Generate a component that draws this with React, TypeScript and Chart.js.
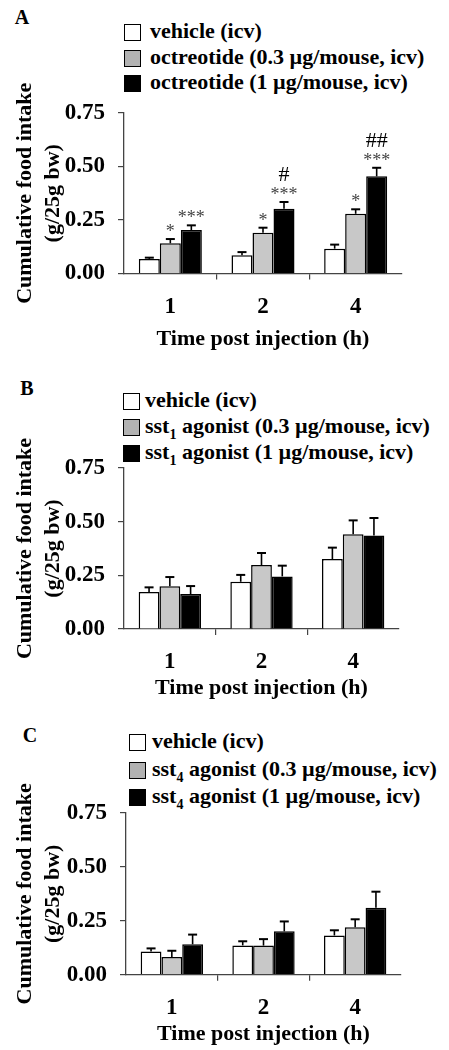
import React, { useEffect, useRef } from "react";
import { Chart, registerables } from "chart.js";

Chart.register(...registerables);

// ---------- data ----------
const timeLabels = ["1", "2", "4"];
const yTickValues = [0, 0.25, 0.5, 0.75];

// Panel A: octreotide
const aVehicle = [0.068, 0.085, 0.116];
const aVehicleSem = [0.006, 0.015, 0.019];
const aLow = [0.141, 0.19, 0.279];
const aLowSem = [0.02, 0.024, 0.021];
const aHigh = [0.203, 0.303, 0.454];
const aHighSem = [0.022, 0.031, 0.04];
const aLowStars = ["*", "*", "*"];
const aHighStars = ["***", "***", "***"];
const aHighHashes = ["", "#", "##"];

// Panel B: sst1 agonist
const bVehicle = [0.172, 0.22, 0.326];
const bVehicleSem = [0.022, 0.032, 0.053];
const bLow = [0.199, 0.298, 0.441];
const bLowSem = [0.043, 0.056, 0.065];
const bHigh = [0.163, 0.245, 0.436];
const bHighSem = [0.037, 0.05, 0.081];

// Panel C: sst4 agonist
const cVehicle = [0.108, 0.136, 0.182];
const cVehicleSem = [0.014, 0.019, 0.024];
const cLow = [0.082, 0.135, 0.22];
const cLowSem = [0.029, 0.03, 0.037];
const cHigh = [0.141, 0.201, 0.311];
const cHighSem = [0.045, 0.046, 0.074];

const emptyMarks = ["", "", ""];

// legend labels: [prefix, subscript, suffix]
const legendA: [string, string, string][] = [
  ["vehicle (icv)", "", ""],
  ["octreotide (0.3 µg/mouse, icv)", "", ""],
  ["octreotide (1 µg/mouse, icv)", "", ""],
];
const legendB: [string, string, string][] = [
  ["vehicle (icv)", "", ""],
  ["sst", "1", " agonist (0.3 µg/mouse, icv)"],
  ["sst", "1", " agonist (1 µg/mouse, icv)"],
];
const legendC: [string, string, string][] = [
  ["vehicle (icv)", "", ""],
  ["sst", "4", " agonist (0.3 µg/mouse, icv)"],
  ["sst", "4", " agonist (1 µg/mouse, icv)"],
];

const xTitle = "Time post injection (h)";
const yTitle = ["Cumulative food intake", "(g/25g bw)"];

// ---------- styles ----------
const FONT = "'Liberation Serif', 'Times New Roman', serif";
const barFills = ["#ffffff", "#c8c8c8", "#000000"];
const legendFills = ["#ffffff", "#b2b2b2", "#000000"];
const CANVAS_W = 412;
const TOP_PAD = 60;
const TICK_SIZE = 23;
const TICK_LH = TICK_SIZE * 1.2;

type PanelSpec = {
  letter: string;
  letterX: number;
  letterY: number;
  legend: [string, string, string][];
  legendBoxX: number;
  legendTextX: number;
  legendRowY: number[];
  chartTop: number;
  chartBottom: number;
  axisX: number;
  axisRight: number;
  labelCenter: number;
  titleCenter: number;
  series: number[][];
  sems: number[][];
  stars: string[][];
  hashes: string[][];
};

const panels: PanelSpec[] = [
  {
    letter: "A", letterX: 22, letterY: 17,
    legend: legendA, legendBoxX: 124, legendTextX: 150, legendRowY: [32, 57.5, 82.5],
    chartTop: 113, chartBottom: 273.5, axisX: 124, axisRight: 402, labelCenter: 307, titleCenter: 340,
    series: [aVehicle, aLow, aHigh],
    sems: [aVehicleSem, aLowSem, aHighSem],
    stars: [emptyMarks, aLowStars, aHighStars],
    hashes: [emptyMarks, emptyMarks, aHighHashes],
  },
  {
    letter: "B", letterX: 27, letterY: 388,
    legend: legendB, legendBoxX: 123, legendTextX: 145, legendRowY: [401, 427, 453],
    chartTop: 467.7, chartBottom: 628.7, axisX: 124, axisRight: 399, labelCenter: 661.7, titleCenter: 688,
    series: [bVehicle, bLow, bHigh],
    sems: [bVehicleSem, bLowSem, bHighSem],
    stars: [emptyMarks, emptyMarks, emptyMarks],
    hashes: [emptyMarks, emptyMarks, emptyMarks],
  },
  {
    letter: "C", letterX: 30, letterY: 735,
    legend: legendC, legendBoxX: 129, legendTextX: 152, legendRowY: [742, 770, 797],
    chartTop: 813.3, chartBottom: 975, axisX: 126, axisRight: 401, labelCenter: 1008, titleCenter: 1035,
    series: [cVehicle, cLow, cHigh],
    sems: [cVehicleSem, cLowSem, cHighSem],
    stars: [emptyMarks, emptyMarks, emptyMarks],
    hashes: [emptyMarks, emptyMarks, emptyMarks],
  },
];

function Panel({ spec }: { spec: PanelSpec }) {
  const ref = useRef<HTMLCanvasElement | null>(null);
  const canvasTop = spec.chartTop - TOP_PAD;
  const canvasBottom = spec.titleCenter + 13.2 + 4;
  const canvasH = Math.round(canvasBottom - canvasTop);
  const xScaleH = canvasTop + canvasH - spec.chartBottom;
  const tickPad = spec.labelCenter - spec.chartBottom - 6 - TICK_LH / 2;

  useEffect(() => {
    if (!ref.current) return;
    const errPlugin = {
      id: "errbars",
      afterDatasetsDraw(chart: any) {
        const ctx = chart.ctx;
        const y = chart.scales.y;
        chart.data.datasets.forEach((ds: any, di: number) => {
          const meta = chart.getDatasetMeta(di);
          meta.data.forEach((el: any, i: number) => {
            const v = ds.data[i];
            const top = y.getPixelForValue(v + spec.sems[di][i]);
            ctx.save();
            ctx.strokeStyle = "#000";
            ctx.lineWidth = 1.6;
            ctx.beginPath();
            ctx.moveTo(el.x, el.y);
            ctx.lineTo(el.x, top);
            ctx.stroke();
            ctx.lineWidth = 2;
            ctx.beginPath();
            ctx.moveTo(el.x - 4.5, top);
            ctx.lineTo(el.x + 4.5, top);
            ctx.stroke();
            const star = spec.stars[di][i];
            const hash = spec.hashes[di][i];
            ctx.textAlign = "center";
            ctx.textBaseline = "alphabetic";
            if (star) {
              ctx.fillStyle = "#444";
              ctx.font = `18px ${FONT}`;
              ctx.fillText(star, el.x, top - 2);
            }
            if (hash) {
              ctx.fillStyle = "#000";
              ctx.font = `22px ${FONT}`;
              ctx.fillText(hash, el.x, top - 21);
            }
            ctx.restore();
          });
        });
      },
    };

    const tickFont = { family: FONT, size: TICK_SIZE, weight: "bold" as const, lineHeight: 1.2 };
    const titleFont = { family: FONT, size: 22, weight: "bold" as const, lineHeight: 1.2 };
    const chart = new Chart(ref.current, {
      type: "bar",
      data: {
        labels: timeLabels,
        datasets: spec.series.map((s, i) => ({
          label: spec.legend[i].join(""),
          data: s,
          backgroundColor: barFills[i],
          borderColor: "#000",
          borderWidth: 1.5,
          categoryPercentage: 0.68,
          barPercentage: 1.0,
        })),
      },
      options: {
        responsive: false,
        animation: false,
        devicePixelRatio: 1,
        layout: { padding: { top: TOP_PAD, left: 0, right: CANVAS_W - spec.axisRight, bottom: 0 } },
        plugins: { legend: { display: false }, tooltip: { enabled: false } },
        scales: {
          x: {
            type: "category",
            grid: {
              display: true,
              drawOnChartArea: false,
              drawTicks: true,
              tickLength: 6,
              offset: true,
              lineWidth: 1.2,
              color: (c: any) => (c.type === "tick" && c.index > 0 ? "#444" : "rgba(0,0,0,0)"),
            },
            border: { display: true, color: "#444", width: 1.3 },
            ticks: { font: tickFont, color: "#000", padding: tickPad, maxRotation: 0 },
            title: {
              display: true,
              text: xTitle,
              font: titleFont,
              color: "#000",
              padding: { top: 0, bottom: 4 },
            },
            afterFit: (s: any) => {
              s.height = xScaleH;
            },
          },
          y: {
            min: 0,
            max: 0.75,
            afterBuildTicks: (s: any) => {
              s.ticks = yTickValues.map((v) => ({ value: v }));
            },
            ticks: {
              font: tickFont,
              color: "#000",
              padding: 13,
              callback: (v: any) => Number(v).toFixed(2),
            },
            grid: { drawOnChartArea: false, tickLength: 6, color: "#444", lineWidth: 1.2 },
            border: { display: true, color: "#444", width: 1.3 },
            title: {
              display: true,
              text: yTitle,
              font: { family: FONT, size: 22, weight: "bold", lineHeight: 1.24 },
              color: "#000",
              padding: { top: 12, bottom: 0 },
            },
            afterFit: (s: any) => {
              s.width = spec.axisX;
            },
          },
        },
      } as any,
      plugins: [errPlugin],
    });
    return () => chart.destroy();
  }, [spec]);

  return (
    <>
      <div
        style={{
          position: "absolute",
          left: spec.letterX - 15,
          top: spec.letterY - 12,
          width: 30,
          height: 24,
          lineHeight: "24px",
          textAlign: "center",
          fontFamily: FONT,
          fontWeight: "bold",
          fontSize: 20,
          color: "#000",
        }}
      >
        {spec.letter}
      </div>
      {spec.legend.map((l, i) => (
        <React.Fragment key={i}>
          <div
            style={{
              position: "absolute",
              left: spec.legendBoxX,
              top: spec.legendRowY[i] - 8,
              width: 15,
              height: 15,
              background: legendFills[i],
              border: "1px solid #000",
            }}
          />
          <div
            style={{
              position: "absolute",
              left: spec.legendTextX,
              top: spec.legendRowY[i] - 14,
              height: 26,
              lineHeight: "26px",
              whiteSpace: "nowrap",
              fontFamily: FONT,
              fontWeight: "bold",
              fontSize: 22,
              color: "#000",
            }}
          >
            {l[0]}
            {l[1] ? (
              <span style={{ fontSize: 14, position: "relative", top: 6 }}>{l[1]}</span>
            ) : null}
            {l[2]}
          </div>
        </React.Fragment>
      ))}
      <canvas
        ref={ref}
        width={CANVAS_W}
        height={canvasH}
        style={{ position: "absolute", left: 0, top: canvasTop, width: CANVAS_W, height: canvasH }}
      />
    </>
  );
}

export default function App() {
  return (
    <div
      style={{
        position: "absolute",
        left: 0,
        top: 0,
        width: 449,
        height: 1050,
        overflow: "hidden",
        background: "#fff",
      }}
    >
      {panels.map((p) => (
        <Panel key={p.letter} spec={p} />
      ))}
    </div>
  );
}
